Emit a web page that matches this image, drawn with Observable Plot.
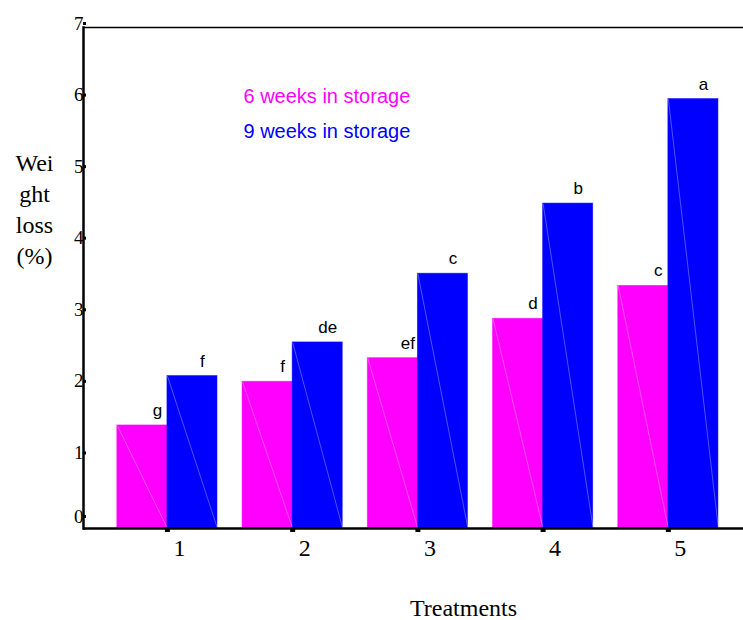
<!DOCTYPE html>
<html>
<head>
<meta charset="utf-8">
<script src="https://cdn.jsdelivr.net/npm/d3@7"></script>
<script src="https://cdn.jsdelivr.net/npm/@observablehq/plot@0.6"></script>
<style>
  html, body { margin: 0; padding: 0; background: #fff; }
</style>
</head>
<body>
<div id="chart"></div>
<script>
const treatments = [1, 2, 3, 4, 5];
const weeks6 = [1.44, 2.05, 2.38, 2.93, 3.39];
const weeks9 = [2.13, 2.60, 3.56, 4.54, 6.00];
const letters6 = ["g", "f", "ef", "d", "c"];
const letters9 = ["f", "de", "c", "b", "a"];
const seriesNames = ["6 weeks in storage", "9 weeks in storage"];
const yTicks = [0, 1, 2, 3, 4, 5, 6, 7];

const pink = "#FF00FF";
const blue = "#0000FF";
const half = 0.4;

const bars = [];
treatments.forEach((t, i) => {
  bars.push({t, x1: t - half, x2: t, value: weeks6[i], letter: letters6[i], series: seriesNames[0]});
  bars.push({t, x1: t, x2: t + half, value: weeks9[i], letter: letters9[i], series: seriesNames[1]});
});
const bars6 = bars.filter(d => d.series === seriesNames[0]);
const bars9 = bars.filter(d => d.series === seriesNames[1]);
const serif = "Liberation Serif, Times New Roman, serif";
const sans = "Liberation Sans, Arial, sans-serif";

const chart = Plot.plot({
  width: 743,
  height: 620,
  marginLeft: 83,
  marginRight: 0,
  marginTop: 27,
  marginBottom: 92,
  x: {domain: [0.33, 5.6], axis: null},
  y: {domain: [0, 7], axis: null},
  color: {domain: seriesNames, range: [pink, blue]},
  style: {background: "#fff"},
  marks: [
    Plot.rectY(bars, {x1: "x1", x2: "x2", y1: 0, y2: "value", fill: "series", stroke: "series", strokeOpacity: 0.6, strokeWidth: 0.8}),
    Plot.link(bars, {x1: "x1", y1: "value", x2: "x2", y2: 0, stroke: "#fff", strokeOpacity: 0.45, strokeWidth: 0.7}),
    Plot.text(bars6, {x: d => (d.x1 + d.x2) / 2, y: "value", text: "letter",
      dx: 15, dy: -15, fontFamily: sans, fontSize: 17, fill: "#000"}),
    Plot.text(bars9, {x: d => (d.x1 + d.x2) / 2, y: "value", text: "letter",
      dx: 10, dy: -15, fontFamily: sans, fontSize: 17, fill: "#000"}),
    Plot.ruleY([0], {stroke: "#000", strokeWidth: 2.5}),
    Plot.ruleY([7], {stroke: "#000", strokeWidth: 1.5}),
    Plot.frame({anchor: "left", stroke: "#000", strokeWidth: 2.5}),
    Plot.axisX(treatments, {tickSize: 4, strokeWidth: 5, tickFormat: d => "", label: null}),
    Plot.axisX(treatments, {tickSize: 0, tickPadding: 10, textAnchor: "middle", dx: 12, tickFormat: d3.format("d"),
      fontFamily: serif, fontSize: 24, fill: "#000", label: null}),
    Plot.axisY(yTicks.filter(d => d > 0), {tickSize: 3, strokeWidth: 3, tickPadding: 0, dy: -4, dx: 3,
      tickFormat: d3.format("d"), fontFamily: serif, fontSize: 19, label: null}),
    Plot.axisY([0], {tickSize: 3, strokeWidth: 3, tickPadding: 0, dy: -12, dx: 3,
      tickFormat: d3.format("d"), fontFamily: serif, fontSize: 19, label: null}),
    Plot.text([seriesNames[0]], {frameAnchor: "top-left", dx: 160, dy: 69, text: d => d, textAnchor: "start",
      lineAnchor: "middle", fill: pink, fontFamily: sans, fontSize: 20}),
    Plot.text([seriesNames[1]], {frameAnchor: "top-left", dx: 160, dy: 104, text: d => d, textAnchor: "start",
      lineAnchor: "middle", fill: blue, fontFamily: sans, fontSize: 20}),
    Plot.text(["Wei\nght\nloss\n(%)"], {frameAnchor: "top-left", dx: -49, dy: 180, text: d => d,
      textAnchor: "middle", lineAnchor: "middle", lineHeight: 1.3, fill: "#000",
      fontFamily: serif, fontSize: 24}),
    Plot.text(["Treatments"], {frameAnchor: "bottom", dx: 50, dy: 80, text: d => d,
      textAnchor: "middle", lineAnchor: "middle", fill: "#000",
      fontFamily: serif, fontSize: 24})
  ]
});
document.getElementById("chart").appendChild(chart);
</script>
</body>
</html>
